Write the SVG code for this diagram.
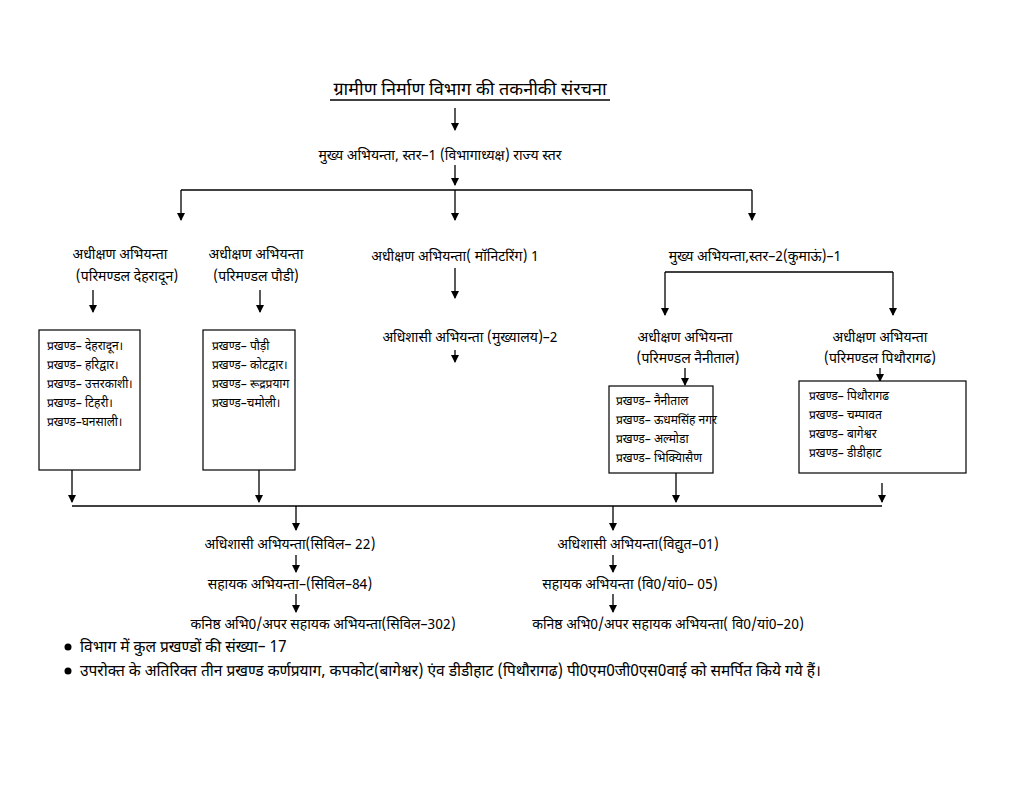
<svg xmlns="http://www.w3.org/2000/svg" width="1024" height="791" viewBox="0 0 1024 791">
<style>
text{font-family:"Noto Sans Devanagari","Noto Sans","DejaVu Sans",sans-serif;font-size:14px;fill:#000}
.c{text-anchor:middle}
.s{font-size:12px}
.n{font-size:15.5px}
.ln{stroke:#000;stroke-width:1.3;fill:none}
.bx{stroke:#000;stroke-width:1.2;fill:#fff}
</style>
<defs><marker id="a" markerWidth="8" markerHeight="8" refX="7" refY="4" orient="auto" markerUnits="userSpaceOnUse"><path d="M0,0 L8,4 L0,8 z" fill="#000"/></marker></defs>
<rect width="1024" height="791" fill="#fff"/>
<g id="connectors">
<path class="ln" marker-end="url(#a)" d="M455,108V130"/>
<path class="ln" marker-end="url(#a)" d="M455,165V185"/>
<path class="ln" d="M181,190H752"/>
<path class="ln" marker-end="url(#a)" d="M181,190V220"/>
<path class="ln" marker-end="url(#a)" d="M455,190V220"/>
<path class="ln" marker-end="url(#a)" d="M752,190V220"/>
<path class="ln" marker-end="url(#a)" d="M93,290V312"/>
<path class="ln" marker-end="url(#a)" d="M260,290V312"/>
<path class="ln" marker-end="url(#a)" d="M455,268V298"/>
<path class="ln" marker-end="url(#a)" d="M455,350V362"/>
<path class="ln" d="M665,272H893"/>
<path class="ln" marker-end="url(#a)" d="M665,272V315"/>
<path class="ln" marker-end="url(#a)" d="M893,272V315"/>
<path class="ln" marker-end="url(#a)" d="M685,368V385"/>
<path class="ln" marker-end="url(#a)" d="M880,368V381"/>
<path class="ln" marker-end="url(#a)" d="M72,470V502"/>
<path class="ln" marker-end="url(#a)" d="M259,470V502"/>
<path class="ln" marker-end="url(#a)" d="M676,473V502"/>
<path class="ln" marker-end="url(#a)" d="M882,483V502"/>
<path class="ln" d="M72,506H882"/>
<path class="ln" marker-end="url(#a)" d="M296,506V530"/>
<path class="ln" marker-end="url(#a)" d="M613,506V530"/>
<path class="ln" marker-end="url(#a)" d="M296,555V572"/>
<path class="ln" marker-end="url(#a)" d="M613,555V572"/>
<path class="ln" marker-end="url(#a)" d="M296,594V612"/>
<path class="ln" marker-end="url(#a)" d="M613,594V612"/>
</g>
<g id="title"><text class="c" x="470" y="95" style="font-size:18px">ग्रामीण निर्माण विभाग की तकनीकी संरचना</text><line class="ln" x1="330" y1="100" x2="610" y2="100"/></g>
<g id="n-chief"><text class="c" x="440" y="160">मुख्य अभियन्ता, स्तर–1 (विभागाध्यक्ष) राज्य स्तर</text></g>
<g id="n-se-dehradun"><text class="c" x="120" y="259">अधीक्षण अभियन्ता</text><text class="c" x="127" y="281">(परिमण्डल देहरादून)</text></g>
<g id="n-se-pauri"><text class="c" x="256" y="259">अधीक्षण अभियन्ता</text><text class="c" x="256" y="281">(परिमण्डल पौडी)</text></g>
<g id="n-se-mon"><text class="c" x="455" y="261">अधीक्षण अभियन्ता( मॉनिटरिंग) 1</text></g>
<g id="n-ee-hq"><text class="c" x="470" y="342">अधिशासी अभियन्ता (मुख्यालय)–2</text></g>
<g id="n-chief2"><text class="c" x="755" y="261">मुख्य अभियन्ता,स्तर–2(कुमाऊं)–1</text></g>
<g id="n-se-nainital"><text class="c" x="685" y="342">अधीक्षण अभियन्ता</text><text class="c" x="688" y="363">(परिमण्डल नैनीताल)</text></g>
<g id="n-se-pith"><text class="c" x="880" y="342">अधीक्षण अभियन्ता</text><text class="c" x="880" y="363">(परिमण्डल पिथौरागढ)</text></g>
<g id="box-dehradun"><rect class="bx" x="39" y="330" width="101" height="140"/>
<text class="s" x="47" y="350">प्रखण्ड– देहरादून।</text><text class="s" x="47" y="369">प्रखण्ड– हरिद्वार।</text><text class="s" x="47" y="388">प्रखण्ड– उत्तरकाशी।</text><text class="s" x="47" y="407">प्रखण्ड– टिहरी।</text><text class="s" x="47" y="426">प्रखण्ड–घनसाली।</text></g>
<g id="box-pauri"><rect class="bx" x="203" y="330" width="92" height="140"/>
<text class="s" x="212" y="350">प्रखण्ड– पौड़ी</text><text class="s" x="212" y="369">प्रखण्ड– कोटद्वार।</text><text class="s" x="212" y="388">प्रखण्ड– रूद्रप्रयाग</text><text class="s" x="212" y="407">प्रखण्ड–चमोली।</text></g>
<g id="box-nainital"><rect class="bx" x="609" y="386" width="104" height="87"/>
<text class="s" x="616" y="405">प्रखण्ड– नैनीताल</text><text class="s" x="616" y="424">प्रखण्ड– ऊधमसिंह नगर</text><text class="s" x="616" y="443">प्रखण्ड– अल्मोडा</text><text class="s" x="616" y="462">प्रखण्ड– भिक्यिासैण</text></g>
<g id="box-pith"><rect class="bx" x="799" y="381" width="167" height="92"/>
<text class="s" x="809" y="400">प्रखण्ड– पिथौरागढ</text><text class="s" x="809" y="419">प्रखण्ड– चम्पावत</text><text class="s" x="809" y="438">प्रखण्ड– बागेश्वर</text><text class="s" x="809" y="457">प्रखण्ड– डीडीहाट</text></g>
<g id="n-ee-civil"><text class="c" x="290" y="549">अधिशासी अभियन्ता(सिविल– 22)</text></g>
<g id="n-ae-civil"><text class="c" x="290" y="589">सहायक अभियन्ता–(सिविल–84)</text></g>
<g id="n-je-civil"><text class="c" x="323" y="629">कनिष्ठ अभि0/अपर सहायक अभियन्ता(सिविल–302)</text></g>
<g id="n-ee-elec"><text class="c" x="638" y="549">अधिशासी अभियन्ता(विद्युत–01)</text></g>
<g id="n-ae-elec"><text class="c" x="630" y="589">सहायक अभियन्ता (वि0/यां0– 05)</text></g>
<g id="n-je-elec"><text class="c" x="668" y="629">कनिष्ठ अभि0/अपर सहायक अभियन्ता( वि0/यां0–20)</text></g>
<g id="notes">
<circle cx="68" cy="647" r="3.5"/><text class="n" x="80" y="652">विभाग में कुल प्रखण्डों की संख्या– 17</text>
<circle cx="68" cy="671" r="3.5"/><text class="n" x="80" y="676">उपरोक्त के अतिरिक्त तीन प्रखण्ड कर्णप्रयाग, कपकोट(बागेश्वर) एंव डीडीहाट (पिथौरागढ) पी0एम0जी0एस0वाई को समर्पित किये गये हैं।</text>
</g>
</svg>
